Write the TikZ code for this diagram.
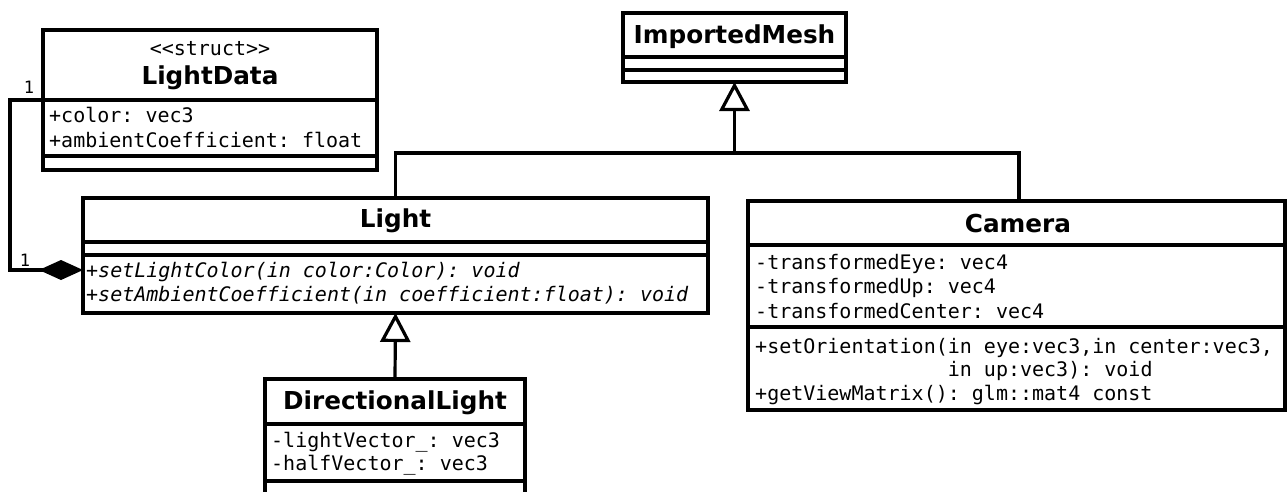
\documentclass[tikz,border=0pt]{standalone}
\usepackage{fontspec}
\setmainfont{DejaVu Sans}
\setmonofont{DejaVu Sans Mono}
\usetikzlibrary{arrows.meta,calc}

\tikzset{
  uml/.style={draw=black, line width=3.2pt, inner sep=0pt, outer sep=0pt,
              anchor=north west, fill=white},
  sepline/.style={line width=3.2pt},
  conn/.style={line width=3.2pt},
  gen/.style={conn, -{Triangle[open, length=29pt, width=30pt]}},
  comp/.style={conn, -{Diamond[length=44pt, width=20pt]}},
  title/.style={font=\fontsize{24.7}{28}\selectfont\bfseries, anchor=base, inner sep=0pt},
  member/.style={font=\fontsize{20}{24}\selectfont\ttfamily, anchor=base west, inner sep=0pt},
  op/.style={member, font=\fontsize{20}{24}\selectfont\ttfamily\itshape},
  stereo/.style={font=\fontsize{20}{24}\selectfont\ttfamily, anchor=base, inner sep=0pt},
  mult/.style={font=\fontsize{17}{20}\selectfont\ttfamily, anchor=base, inner sep=0pt},
}

\begin{document}
\begin{tikzpicture}[x=1pt, y=-1pt]
  \useasboundingbox (0,0) rectangle (1287,491);
  \fill[white] (0,0) rectangle (1287,491);
  \clip (0,0) rectangle (1287,491);

  % class boxes
  \node[uml, minimum width=334pt, minimum height=140pt] (ld)    at (43,30)   {};
  \node[uml, minimum width=223pt, minimum height=69pt]  (im)    at (623,13)  {};
  \node[uml, minimum width=625pt, minimum height=115pt] (light) at (83,198)  {};
  \node[uml, minimum width=537pt, minimum height=209pt] (cam)   at (748,201) {};
  \node[uml, minimum width=260pt, minimum height=140pt] (dl)    at (265,379) {};

  % compartment separators
  \draw[sepline] (ld.west |- 0,100) -- (ld.east |- 0,100);
  \draw[sepline] (ld.west |- 0,156) -- (ld.east |- 0,156);
  \draw[sepline] (im.west |- 0,57) -- (im.east |- 0,57);
  \draw[sepline] (im.west |- 0,70) -- (im.east |- 0,70);
  \draw[sepline] (light.west |- 0,242) -- (light.east |- 0,242);
  \draw[sepline] (light.west |- 0,255) -- (light.east |- 0,255);
  \draw[sepline] (cam.west |- 0,245) -- (cam.east |- 0,245);
  \draw[sepline] (cam.west |- 0,327) -- (cam.east |- 0,327);
  \draw[sepline] (dl.west |- 0,424) -- (dl.east |- 0,424);
  \draw[sepline] (dl.west |- 0,481) -- (dl.east |- 0,481);

  % LightData
  \node[stereo] (ldStereo) at (210,55) {<<struct>>};
  \node[title]  (ldName)   at (210,84) {LightData};
  \node[member] (ldA1) at (49,122) {+color: vec3};
  \node[member] (ldA2) at (49,147) {+ambientCoefficient: float};

  % ImportedMesh
  \node[title] (imName) at (734.5,43) {ImportedMesh};

  % Light
  \node[title] (lightName) at (395.5,227) {Light};
  \node[op] (lightM1) at (86,277) {+setLightColor(in color:Color): void};
  \node[op] (lightM2) at (86,301) {+setAmbientCoefficient(in coefficient:float): void};

  % Camera
  \node[title]  (camName) at (1018,232) {Camera};
  \node[member] (camA1) at (755,269) {-transformedEye: vec4};
  \node[member] (camA2) at (755,293) {-transformedUp: vec4};
  \node[member] (camA3) at (755,318) {-transformedCenter: vec4};
  \node[member] (camM1) at (755,353) {+setOrientation(in eye:vec3,in center:vec3,};
  \node[member] (camM2) at (755,376) {\phantom{+setOrientation(}in up:vec3): void};
  \node[member] (camM3) at (755,400) {+getViewMatrix(): glm::mat4 const};

  % DirectionalLight
  \node[title]  (dlName) at (395,409) {DirectionalLight};
  \node[member] (dlA1) at (271,447) {-lightVector\_: vec3};
  \node[member] (dlA2) at (271,470) {-halfVector\_: vec3};

  % generalisation: Light, Camera -> ImportedMesh
  \coordinate (join) at (im.south |- 0,153);
  \draw[gen] (light.north) |- (join) -- (im.south);
  \draw[conn] (cam.north -| 1019,0) |- (join);

  % generalisation: DirectionalLight -> Light
  \draw[gen] (dl.north) -- (light.south);

  % composition: LightData -> Light
  \coordinate (bendA) at (10,100);
  \coordinate (bendB) at (10,270);
  \draw[comp] (ld.west |- bendA) -- (bendA) -- (bendB) -- (light.west |- bendB);
  \node[mult] (multLd)    at (29,93)  {1};
  \node[mult] (multLight) at (25,266) {1};
\end{tikzpicture}
\end{document}
